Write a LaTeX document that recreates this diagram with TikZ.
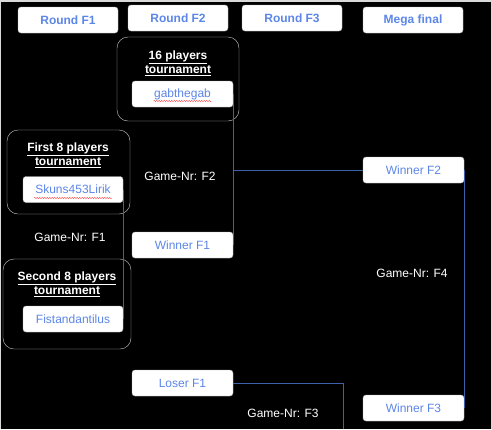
\documentclass[tikz,border=0pt]{standalone}
\usepackage{fontspec}
\setmainfont{Liberation Sans}
\usetikzlibrary{calc,decorations.pathmorphing}
\definecolor{nameblue}{RGB}{92,134,232}
\definecolor{wireblue}{RGB}{62,98,170}
\definecolor{framegray}{RGB}{200,200,200}

\begin{document}
\begin{tikzpicture}[x=1pt, y=-1pt,
    hdr/.style={draw=gray!60, rounded corners=3pt, fill=white, text=nameblue,
                font=\fontsize{12}{14}\selectfont\bfseries,
                minimum width=100pt, minimum height=26pt, inner sep=0pt},
    pbox/.style={draw=gray!60, rounded corners=3pt, fill=white, text=nameblue,
                 font=\fontsize{12}{14}\selectfont,
                 minimum width=101pt, minimum height=26pt, inner sep=0pt},
    tbox/.style={draw=framegray, rounded corners=11pt, fill=black, inner sep=0pt},
    ttl/.style={text=white, align=center, font=\fontsize{12}{14}\selectfont\bfseries, inner sep=0pt},
    gnr/.style={text=white, font=\fontsize{12}{14}\selectfont, inner sep=0pt},
    wire/.style={draw=wireblue, line width=0.9pt},
    squig/.style={draw=red!75, line width=0.4pt, decorate,
                  decoration={snake, amplitude=0.6pt, segment length=2.5pt}}
  ]
  \useasboundingbox (0,0) rectangle (492,429);
  \fill[gray!30] (0,0) rectangle (492,429);
  \fill[black] (1,2) rectangle (491,429);

  % round headers
  \node[hdr] (rf1)  at (68, 20)  {Round F1};
  \node[hdr] (rf2)  at (178, 18) {Round F2};
  \node[hdr] (rf3)  at (292, 18) {Round F3};
  \node[hdr] (mega) at (413, 20) {Mega final};

  % tournament frames
  \node[tbox, minimum width=122pt, minimum height=84pt] (t16)  at (178, 79)  {};
  \node[tbox, minimum width=123pt, minimum height=84pt] (t8a)  at (68.5, 172) {};
  \node[tbox, minimum width=128pt, minimum height=90pt] (t8b)  at (67, 304)  {};
  \node[ttl] (t16ttl) at (178, 63)    {\underline{16 players}\\\underline{tournament}};
  \node[ttl] (t8attl) at (68, 155.5)  {\underline{First 8 players}\\\underline{tournament}};
  \node[ttl] (t8bttl) at (67, 284.5)  {\underline{Second 8 players}\\\underline{tournament}};

  % players
  \node[pbox] (gab)   at (182.5, 94)  {gabthegab};
  \node[pbox, minimum width=100pt] (skuns) at (73, 189.5) {Skuns453Lirik};
  \node[pbox, minimum width=100pt] (fist)  at (73, 319)   {Fistandantilus};
  \node[pbox] (winf1) at (182.5, 245) {Winner F1};
  \node[pbox] (loser) at (182.5, 383) {Loser F1};
  \node[pbox] (winf2) at (413.5, 170) {Winner F2};
  \node[pbox] (winf3) at (413.5, 408) {Winner F3};

  \draw[squig] ($(gab.center)+(-29,7)$) -- ++(58,0);
  \draw[squig] ($(skuns.center)+(-39,8.5)$) -- ++(78,0);

  % game numbers
  \node[gnr] (gf1) at (70, 237)  {Game-Nr: F1};
  \node[gnr] (gf2) at (180, 176) {Game-Nr: F2};
  \node[gnr] (gf3) at (283, 413) {Game-Nr: F3};
  \node[gnr] (gf4) at (412, 273) {Game-Nr: F4};

  % bracket lines
  \draw[wire] (skuns.east) -- (fist.east);
  \draw[wire] (gab.east) -- (winf1.east);
  \coordinate (f2join) at (gab.east |- winf2.west);
  \draw[wire] (f2join) -- (winf2.west);
  \draw[wire] (winf2.east) -- (winf3.east);
  \coordinate (f3end) at (343, 429);
  \draw[wire] (loser.east) -| (f3end);
\end{tikzpicture}
\end{document}
